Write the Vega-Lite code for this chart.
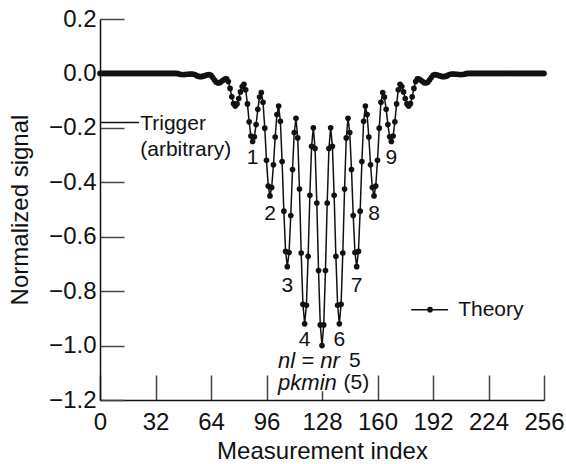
{
  "$schema": "https://vega.github.io/schema/vega-lite/v6.json",
  "autosize": "none",
  "width": 444,
  "height": 381,
  "padding": {"left": 100, "top": 19, "right": 22, "bottom": 64},
  "background": "white",
  "config": {
    "font": "Liberation Sans",
    "view": {"stroke": null},
    "axis": {
      "grid": false,
      "domainColor": "#111",
      "domainWidth": 1.5,
      "tickColor": "#444",
      "tickWidth": 1.5,
      "labelFontSize": 24,
      "labelColor": "#111",
      "titleFontSize": 24,
      "titleFontWeight": "normal",
      "titleColor": "#111",
      "labelFlush": false,
      "labelOverlap": false
    }
  },
  "datasets": {
    "theory": [
      {"x":0,"y":0},{"x":1,"y":0},{"x":2,"y":0},{"x":3,"y":0},{"x":4,"y":0},{"x":5,"y":0},{"x":6,"y":0},{"x":7,"y":0},{"x":8,"y":0},{"x":9,"y":0},
      {"x":10,"y":0},{"x":11,"y":0},{"x":12,"y":0},{"x":13,"y":0},{"x":14,"y":0},{"x":15,"y":0},{"x":16,"y":0},{"x":17,"y":0},{"x":18,"y":0},{"x":19,"y":0},
      {"x":20,"y":0},{"x":21,"y":0},{"x":22,"y":0},{"x":23,"y":0},{"x":24,"y":0},{"x":25,"y":0},{"x":26,"y":0},{"x":27,"y":0},{"x":28,"y":0},{"x":29,"y":0},
      {"x":30,"y":0},{"x":31,"y":0},{"x":32,"y":0},{"x":33,"y":0},{"x":34,"y":0},{"x":35,"y":0},{"x":36,"y":0},{"x":37,"y":0},{"x":38,"y":0},{"x":39,"y":0},
      {"x":40,"y":0},{"x":41,"y":0},{"x":42,"y":0},{"x":43,"y":0},{"x":44,"y":0},{"x":45,"y":-0.001},{"x":46,"y":-0.003},{"x":47,"y":-0.004},{"x":48,"y":-0.004},{"x":49,"y":-0.004},
      {"x":50,"y":-0.003},{"x":51,"y":-0.003},{"x":52,"y":-0.002},{"x":53,"y":-0.002},{"x":54,"y":-0.003},{"x":55,"y":-0.005},{"x":56,"y":-0.009},{"x":57,"y":-0.011},{"x":58,"y":-0.012},{"x":59,"y":-0.011},
      {"x":60,"y":-0.009},{"x":61,"y":-0.007},{"x":62,"y":-0.005},{"x":63,"y":-0.004},{"x":64,"y":-0.007},{"x":65,"y":-0.015},{"x":66,"y":-0.024},{"x":67,"y":-0.032},{"x":68,"y":-0.035},{"x":69,"y":-0.034},
      {"x":70,"y":-0.030},{"x":71,"y":-0.025},{"x":72,"y":-0.021},{"x":73,"y":-0.020},{"x":74,"y":-0.030},{"x":75,"y":-0.055},{"x":76,"y":-0.086},{"x":77,"y":-0.111},{"x":78,"y":-0.120},{"x":79,"y":-0.112},
      {"x":80,"y":-0.092},{"x":81,"y":-0.068},{"x":82,"y":-0.048},{"x":83,"y":-0.040},{"x":84,"y":-0.060},{"x":85,"y":-0.112},{"x":86,"y":-0.178},{"x":87,"y":-0.230},{"x":88,"y":-0.250},{"x":89,"y":-0.233},
      {"x":90,"y":-0.188},{"x":91,"y":-0.132},{"x":92,"y":-0.087},{"x":93,"y":-0.070},{"x":94,"y":-0.106},{"x":95,"y":-0.201},{"x":96,"y":-0.319},{"x":97,"y":-0.414},{"x":98,"y":-0.450},{"x":99,"y":-0.419},
      {"x":100,"y":-0.336},{"x":101,"y":-0.234},{"x":102,"y":-0.151},{"x":103,"y":-0.120},{"x":104,"y":-0.176},{"x":105,"y":-0.324},{"x":106,"y":-0.506},{"x":107,"y":-0.654},{"x":108,"y":-0.710},{"x":109,"y":-0.658},
      {"x":110,"y":-0.522},{"x":111,"y":-0.353},{"x":112,"y":-0.217},{"x":113,"y":-0.165},{"x":114,"y":-0.237},{"x":115,"y":-0.425},{"x":116,"y":-0.660},{"x":117,"y":-0.848},{"x":118,"y":-0.920},{"x":119,"y":-0.852},
      {"x":120,"y":-0.672},{"x":121,"y":-0.448},{"x":122,"y":-0.268},{"x":123,"y":-0.200},{"x":124,"y":-0.276},{"x":125,"y":-0.476},{"x":126,"y":-0.724},{"x":127,"y":-0.924},{"x":128,"y":-1.000},{"x":129,"y":-0.924},
      {"x":130,"y":-0.724},{"x":131,"y":-0.476},{"x":132,"y":-0.276},{"x":133,"y":-0.200},{"x":134,"y":-0.268},{"x":135,"y":-0.448},{"x":136,"y":-0.672},{"x":137,"y":-0.852},{"x":138,"y":-0.920},{"x":139,"y":-0.848},
      {"x":140,"y":-0.660},{"x":141,"y":-0.425},{"x":142,"y":-0.237},{"x":143,"y":-0.165},{"x":144,"y":-0.217},{"x":145,"y":-0.353},{"x":146,"y":-0.522},{"x":147,"y":-0.658},{"x":148,"y":-0.710},{"x":149,"y":-0.654},
      {"x":150,"y":-0.506},{"x":151,"y":-0.324},{"x":152,"y":-0.176},{"x":153,"y":-0.120},{"x":154,"y":-0.151},{"x":155,"y":-0.234},{"x":156,"y":-0.336},{"x":157,"y":-0.419},{"x":158,"y":-0.450},{"x":159,"y":-0.414},
      {"x":160,"y":-0.319},{"x":161,"y":-0.201},{"x":162,"y":-0.106},{"x":163,"y":-0.070},{"x":164,"y":-0.087},{"x":165,"y":-0.132},{"x":166,"y":-0.188},{"x":167,"y":-0.233},{"x":168,"y":-0.250},{"x":169,"y":-0.230},
      {"x":170,"y":-0.178},{"x":171,"y":-0.112},{"x":172,"y":-0.060},{"x":173,"y":-0.040},{"x":174,"y":-0.048},{"x":175,"y":-0.068},{"x":176,"y":-0.092},{"x":177,"y":-0.112},{"x":178,"y":-0.120},{"x":179,"y":-0.111},
      {"x":180,"y":-0.086},{"x":181,"y":-0.055},{"x":182,"y":-0.030},{"x":183,"y":-0.020},{"x":184,"y":-0.021},{"x":185,"y":-0.025},{"x":186,"y":-0.030},{"x":187,"y":-0.034},{"x":188,"y":-0.035},{"x":189,"y":-0.032},
      {"x":190,"y":-0.024},{"x":191,"y":-0.015},{"x":192,"y":-0.007},{"x":193,"y":-0.004},{"x":194,"y":-0.005},{"x":195,"y":-0.007},{"x":196,"y":-0.009},{"x":197,"y":-0.011},{"x":198,"y":-0.012},{"x":199,"y":-0.011},
      {"x":200,"y":-0.009},{"x":201,"y":-0.005},{"x":202,"y":-0.003},{"x":203,"y":-0.002},{"x":204,"y":-0.002},{"x":205,"y":-0.003},{"x":206,"y":-0.003},{"x":207,"y":-0.004},{"x":208,"y":-0.004},{"x":209,"y":-0.004},
      {"x":210,"y":-0.003},{"x":211,"y":-0.001},{"x":212,"y":0},{"x":213,"y":0},{"x":214,"y":0},{"x":215,"y":0},{"x":216,"y":0},{"x":217,"y":0},{"x":218,"y":0},{"x":219,"y":0},
      {"x":220,"y":0},{"x":221,"y":0},{"x":222,"y":0},{"x":223,"y":0},{"x":224,"y":0},{"x":225,"y":0},{"x":226,"y":0},{"x":227,"y":0},{"x":228,"y":0},{"x":229,"y":0},
      {"x":230,"y":0},{"x":231,"y":0},{"x":232,"y":0},{"x":233,"y":0},{"x":234,"y":0},{"x":235,"y":0},{"x":236,"y":0},{"x":237,"y":0},{"x":238,"y":0},{"x":239,"y":0},
      {"x":240,"y":0},{"x":241,"y":0},{"x":242,"y":0},{"x":243,"y":0},{"x":244,"y":0},{"x":245,"y":0},{"x":246,"y":0},{"x":247,"y":0},{"x":248,"y":0},{"x":249,"y":0},
      {"x":250,"y":0},{"x":251,"y":0},{"x":252,"y":0},{"x":253,"y":0},{"x":254,"y":0},{"x":255,"y":0},{"x":256,"y":0}
    ],
    "trigger": [{"x": 0, "y": -0.18}, {"x": 22.5, "y": -0.18}],
    "triggerText": [{"x": 23.2, "y": -0.184, "text": "Trigger"}, {"x": 23.2, "y": -0.283, "text": "(arbitrary)"}],
    "legendLine": [{"x": 179.4, "y": -0.868}, {"x": 200.7, "y": -0.868}],
    "legendDot": [{"x": 190.3, "y": -0.868}],
    "legendText": [{"x": 206.5, "y": -0.868, "text": "Theory"}],
    "peakLabels": [
      {"x": 88, "y": -0.309, "text": "1"},
      {"x": 98, "y": -0.515, "text": "2"},
      {"x": 108, "y": -0.78, "text": "3"},
      {"x": 118, "y": -0.98, "text": "4"},
      {"x": 138, "y": -0.98, "text": "6"},
      {"x": 148, "y": -0.78, "text": "7"},
      {"x": 158, "y": -0.515, "text": "8"},
      {"x": 168, "y": -0.309, "text": "9"}
    ],
    "cover": [{"x": 121, "x2": 134, "y": -1.105, "y2": -1.168}],
    "italicNotes": [{"x": 102.7, "y": -1.055, "text": "nl = nr"}, {"x": 102.7, "y": -1.136, "text": "pkmin"}],
    "plainNotes": [{"x": 147, "y": -1.055, "text": "5"}, {"x": 147.8, "y": -1.136, "text": "(5)"}]
  },
  "encoding": {
    "x": {"field": "x", "type": "quantitative", "scale": {"domain": [0, 256], "nice": false},
      "axis": {"values": [0, 32, 64, 96, 128, 160, 192, 224, 256], "tickSize": -25, "labelPadding": 35, "title": "Measurement index", "titleY": 51, "titleBaseline": "middle"}},
    "y": {"field": "y", "type": "quantitative", "scale": {"domain": [-1.2, 0.2], "nice": false},
      "axis": {"values": [-1.2, -1.0, -0.8, -0.6, -0.4, -0.2, 0, 0.2], "format": ".1f", "tickSize": -24, "labelPadding": 28, "title": "Normalized signal", "titleX": -80, "titleY": 190.5, "titleBaseline": "middle", "titleAlign": "center", "titleAngle": -90}}
  },
  "layer": [
    {"data": {"name": "cover"}, "mark": {"type": "rect", "color": "white", "opacity": 1}, "encoding": {"x2": {"field": "x2"}, "y2": {"field": "y2"}}},
    {"data": {"name": "trigger"}, "mark": {"type": "line", "color": "#111", "strokeWidth": 1.5}},
    {"data": {"name": "theory"}, "mark": {"type": "line", "color": "#111", "strokeWidth": 1.5, "point": {"filled": true, "color": "#111", "size": 32}}},
    {"data": {"name": "legendLine"}, "mark": {"type": "line", "color": "#111", "strokeWidth": 1.5}},
    {"data": {"name": "legendDot"}, "mark": {"type": "point", "filled": true, "color": "#111", "size": 32, "opacity": 1}},
    {"data": {"name": "legendText"}, "mark": {"type": "text", "align": "left", "baseline": "middle", "fontSize": 21, "color": "#111"}, "encoding": {"text": {"field": "text"}}},
    {"data": {"name": "triggerText"}, "mark": {"type": "text", "align": "left", "baseline": "middle", "fontSize": 21, "color": "#111"}, "encoding": {"text": {"field": "text"}}},
    {"data": {"name": "peakLabels"}, "mark": {"type": "text", "align": "center", "baseline": "middle", "fontSize": 21, "color": "#111"}, "encoding": {"text": {"field": "text"}}},
    {"data": {"name": "italicNotes"}, "mark": {"type": "text", "align": "left", "baseline": "middle", "fontSize": 22, "fontStyle": "italic", "color": "#111"}, "encoding": {"text": {"field": "text"}}},
    {"data": {"name": "plainNotes"}, "mark": {"type": "text", "align": "center", "baseline": "middle", "fontSize": 21, "color": "#111"}, "encoding": {"text": {"field": "text"}}}
  ]
}
